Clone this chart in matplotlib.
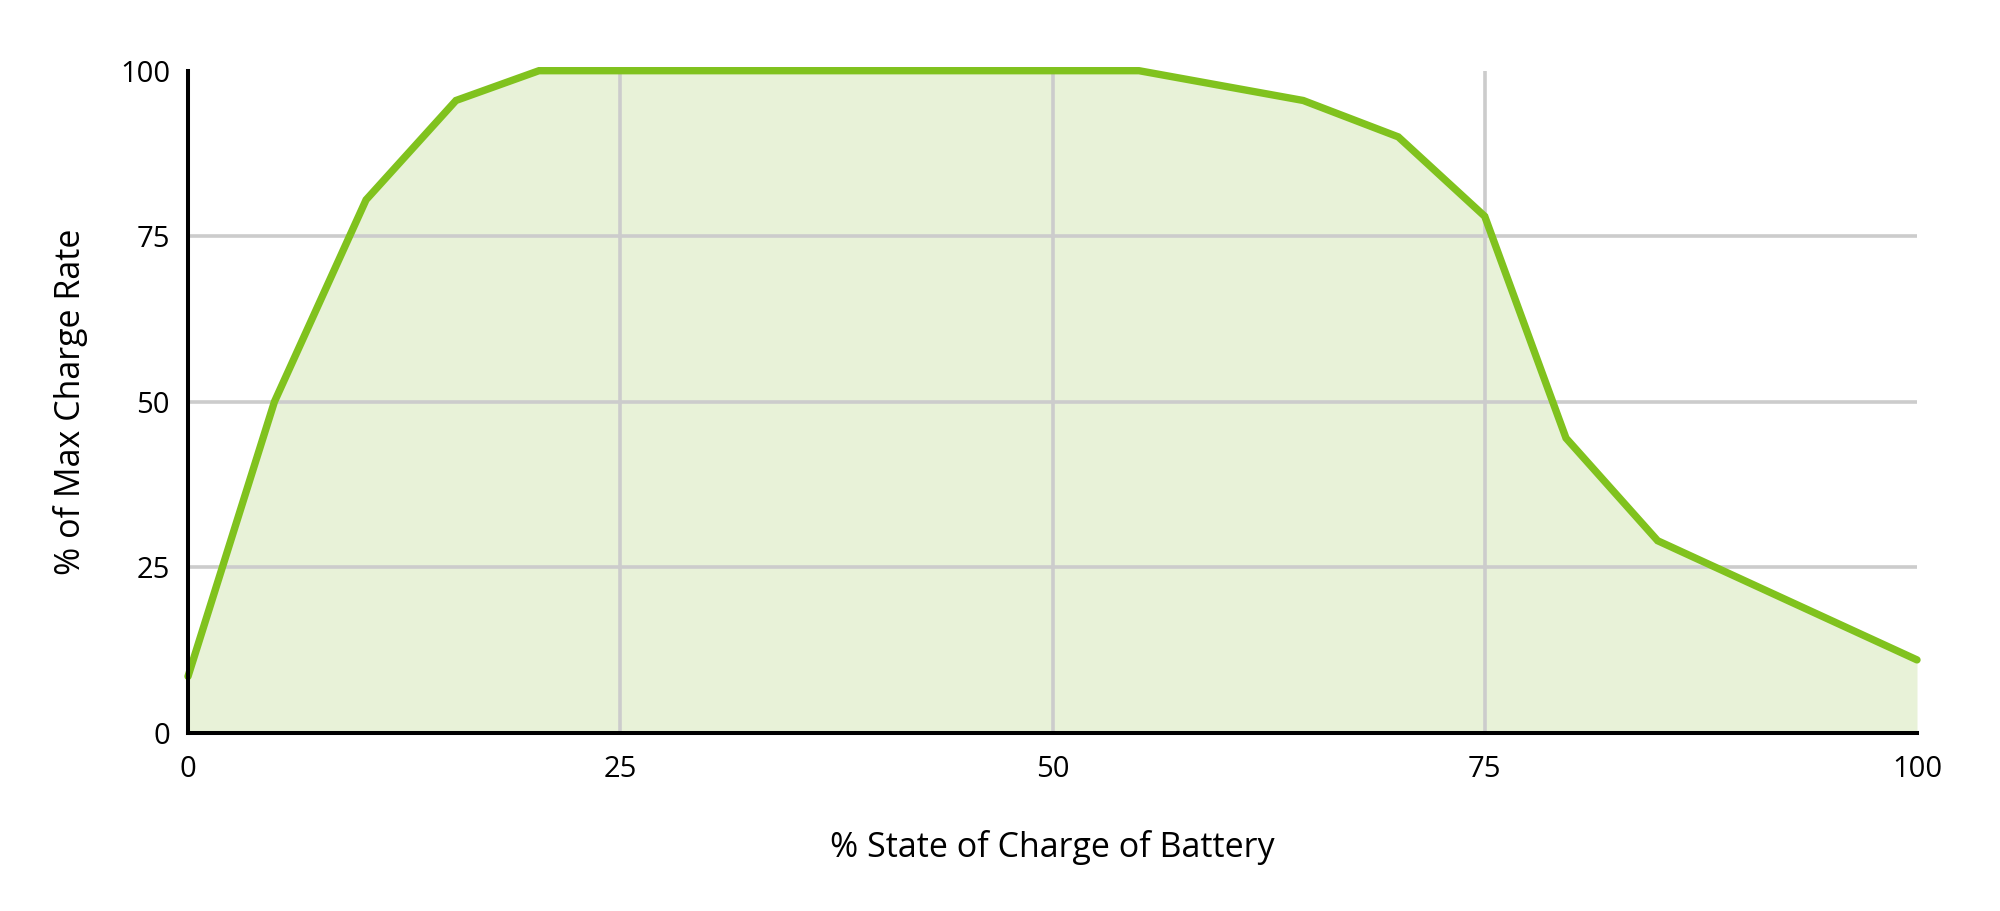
import matplotlib
matplotlib.use('Agg')
import matplotlib.pyplot as plt


# Charge curve
state_of_charge = [0, 5, 10.3, 15.5, 20.3, 55, 64.5, 70, 75, 79.7, 85, 100]
charge_rate = [8.5, 50, 80.5, 95.5, 100, 100, 95.5, 90, 78, 44.5, 29, 11]

tick_values = [0, 25, 50, 75, 100]

LINE_COLOR = '#80c21e'
FILL_COLOR = '#e8f2d8'
GRID_COLOR = '#cccccc'


def main():
    plt.rcParams['font.family'] = ['Open Sans', 'DejaVu Sans']

    fig = plt.figure(figsize=(20, 9.11), dpi=100)
    ax = fig.add_axes([0.094, 0.1957, 0.8645, 0.7267])

    ax.fill_between(state_of_charge, charge_rate, 0, color=FILL_COLOR, linewidth=0, zorder=1)
    ax.plot(state_of_charge, charge_rate, color=LINE_COLOR, linewidth=5.3,
            solid_joinstyle='miter', solid_capstyle='round', clip_on=False, zorder=3)

    ax.set_xlim(0, 100)
    ax.set_ylim(0, 100)
    ax.set_xticks(tick_values)
    ax.set_yticks(tick_values)

    # gridlines only at the inner ticks
    for v in tick_values[1:-1]:
        ax.axhline(v, color=GRID_COLOR, linewidth=2.6, zorder=1.5)
        ax.axvline(v, color=GRID_COLOR, linewidth=2.6, zorder=1.5)

    for side in ['top', 'right']:
        ax.spines[side].set_visible(False)
    for side in ['left', 'bottom']:
        ax.spines[side].set_linewidth(2.9)
        ax.spines[side].set_color('black')
        ax.spines[side].set_zorder(4)

    ax.tick_params(axis='x', length=0, pad=16, labelsize=21)
    ax.tick_params(axis='y', length=0, pad=13, labelsize=21)

    ax.set_xlabel('% State of Charge of Battery', fontsize=24.5, labelpad=33)
    ax.set_ylabel('% of Max Charge Rate', fontsize=24.5, labelpad=23)

    fig.savefig('out.png', dpi=100)


if __name__ == "__main__":
    main()
